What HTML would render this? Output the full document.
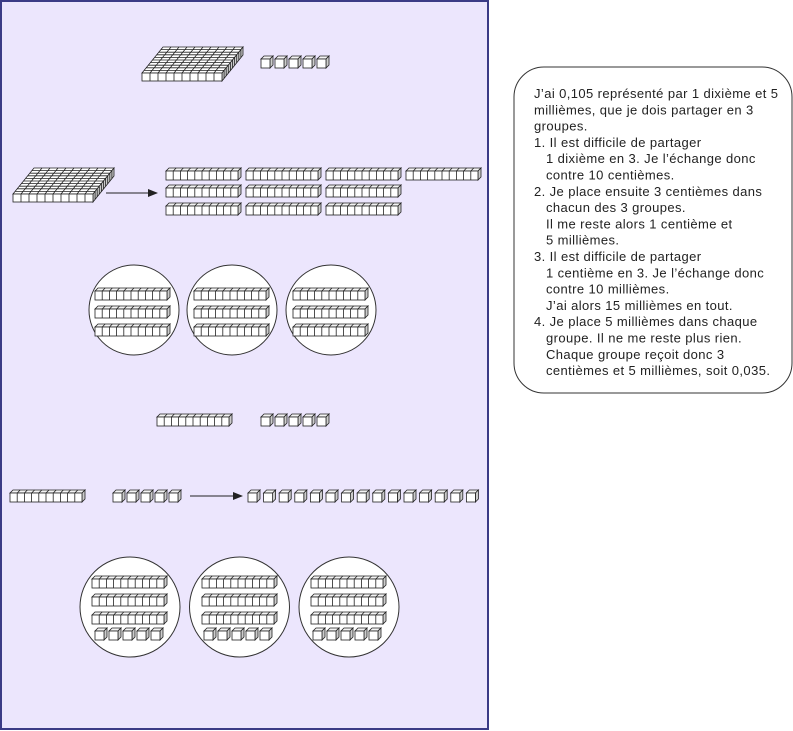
<!DOCTYPE html>
<html><head><meta charset="utf-8"><style>
html,body{margin:0;padding:0;background:#fff;width:793px;height:731px;overflow:hidden}
svg{position:absolute;left:0;top:0}
.t{font-family:"Liberation Sans","DejaVu Sans",sans-serif;font-size:13px;letter-spacing:0.4px;fill:#222}
</style></head><body>
<svg width="793" height="731" viewBox="0 0 793 731" xmlns="http://www.w3.org/2000/svg">
<defs>
<g id="c" fill="#fff" stroke="#222" stroke-width="0.8">
<path d="M0 3L3 0H12L9 3Z" fill="#f4f4f4"/><path d="M9 3L12 0V9L9 12Z" fill="#ccc"/><rect x="0" y="3" width="9" height="9"/>
</g>
<g id="r" fill="#fff" stroke="#222" stroke-width="0.8">
<path d="M0 3L3 0H75L72 3Z" fill="#f4f4f4"/><path d="M72 3L75 0V9L72 12Z" fill="#ccc"/><rect x="0" y="3" width="72" height="9"/>
<path d="M7.2 3v9M14.4 3v9M21.6 3v9M28.8 3v9M36 3v9M43.2 3v9M50.4 3v9M57.6 3v9M64.8 3v9M7.2 3l3 -3M14.4 3l3 -3M21.6 3l3 -3M28.8 3l3 -3M36 3l3 -3M43.2 3l3 -3M50.4 3l3 -3M57.6 3l3 -3M64.8 3l3 -3" fill="none"/>
</g>
<g id="f" fill="#fff" stroke="#222" stroke-width="0.8">
<path d="M0 26L21 0H101L80 26Z"/><path d="M80 26L101 0V8L80 34Z" fill="#ccc"/><rect x="0" y="26" width="80" height="8"/>
<path fill="none" d="M8 26l21 -26M16 26l21 -26M24 26l21 -26M32 26l21 -26M40 26l21 -26M48 26l21 -26M56 26l21 -26M64 26l21 -26M72 26l21 -26M2.1 23.4h80M4.2 20.8h80M6.3 18.2h80M8.4 15.6h80M10.5 13h80M12.6 10.4h80M14.7 7.8h80M16.8 5.2h80M18.9 2.6h80M8 26v8M16 26v8M24 26v8M32 26v8M40 26v8M48 26v8M56 26v8M64 26v8M72 26v8M82.1 23.4v8M84.2 20.8v8M86.3 18.2v8M88.4 15.6v8M90.5 13v8M92.6 10.4v8M94.7 7.8v8M96.8 5.2v8M98.9 2.6v8"/>
</g>
<g id="c5"><use href="#c" x="0"/><use href="#c" x="14"/><use href="#c" x="28"/><use href="#c" x="42"/><use href="#c" x="56"/></g>
<g id="c3r"><use href="#r" y="0"/><use href="#r" y="18"/><use href="#r" y="36"/></g>
<marker id="a" markerWidth="10" markerHeight="8" refX="9" refY="4" orient="auto" markerUnits="userSpaceOnUse"><path d="M0 0L10 4L0 8Z" fill="#222"/></marker>
</defs>
<rect x="1" y="1" width="487" height="728" fill="#ece6fd" stroke="#3b3b86" stroke-width="2"/>
<use href="#f" x="142" y="47"/>
<use href="#c5" x="261" y="56"/>
<use href="#f" x="13" y="168"/>
<line x1="106" y1="193" x2="157" y2="193" stroke="#222" stroke-width="1" marker-end="url(#a)"/>
<use href="#r" x="166" y="168"/><use href="#r" x="246" y="168"/><use href="#r" x="326" y="168"/><use href="#r" x="406" y="168"/>
<use href="#r" x="166" y="185"/><use href="#r" x="246" y="185"/><use href="#r" x="326" y="185"/>
<use href="#r" x="166" y="203"/><use href="#r" x="246" y="203"/><use href="#r" x="326" y="203"/>
<g fill="#fff" stroke="#333" stroke-width="1">
<circle cx="134" cy="310" r="45"/><circle cx="232" cy="310" r="45"/><circle cx="331" cy="310" r="45"/>
</g>
<use href="#c3r" x="95" y="288"/><use href="#c3r" x="194" y="288"/><use href="#c3r" x="293" y="288"/>
<use href="#r" x="157" y="414"/>
<use href="#c5" x="261" y="414"/>
<use href="#r" x="10" y="490"/>
<use href="#c5" x="113" y="490"/>
<line x1="190" y1="496" x2="242" y2="496" stroke="#222" stroke-width="1" marker-end="url(#a)"/>
<use href="#c" x="248" y="490"/><use href="#c" x="263.6" y="490"/><use href="#c" x="279.2" y="490"/><use href="#c" x="294.8" y="490"/><use href="#c" x="310.4" y="490"/>
<use href="#c" x="326" y="490"/><use href="#c" x="341.6" y="490"/><use href="#c" x="357.2" y="490"/><use href="#c" x="372.8" y="490"/><use href="#c" x="388.4" y="490"/>
<use href="#c" x="404" y="490"/><use href="#c" x="419.6" y="490"/><use href="#c" x="435.2" y="490"/><use href="#c" x="450.8" y="490"/><use href="#c" x="466.4" y="490"/>
<g fill="#fff" stroke="#333" stroke-width="1">
<circle cx="130" cy="607" r="50"/><circle cx="239.5" cy="607" r="50"/><circle cx="349" cy="607" r="50"/>
</g>
<use href="#c3r" x="92" y="576"/><use href="#c3r" x="202" y="576"/><use href="#c3r" x="311" y="576"/>
<use href="#c5" x="95" y="628"/><use href="#c5" x="204" y="628"/><use href="#c5" x="313" y="628"/>
<rect x="514" y="67" width="278" height="326" rx="30" ry="30" fill="#fff" stroke="#333" stroke-width="1"/>
<g class="t">
<text x="534" y="98">J’ai 0,105 représenté par 1 dixième et 5</text>
<text x="534" y="114.3">millièmes, que je dois partager en 3</text>
<text x="534" y="130.6">groupes.</text>
<text x="534" y="146.9">1. Il est difficile de partager</text>
<text x="546" y="163.2">1 dixième en 3. Je l’échange donc</text>
<text x="546" y="179.5">contre 10 centièmes.</text>
<text x="534" y="195.8">2. Je place ensuite 3 centièmes dans</text>
<text x="546" y="212.1">chacun des 3 groupes.</text>
<text x="546" y="228.4">Il me reste alors 1 centième et</text>
<text x="546" y="244.7">5 millièmes.</text>
<text x="534" y="261">3. Il est difficile de partager</text>
<text x="546" y="277.3">1 centième en 3. Je l’échange donc</text>
<text x="546" y="293.6">contre 10 millièmes.</text>
<text x="546" y="309.9">J’ai alors 15 millièmes en tout.</text>
<text x="534" y="326.2">4. Je place 5 millièmes dans chaque</text>
<text x="546" y="342.5">groupe. Il ne me reste plus rien.</text>
<text x="546" y="358.8">Chaque groupe reçoit donc 3</text>
<text x="546" y="375.1">centièmes et 5 millièmes, soit 0,035.</text>
</g>
</svg>
</body></html>
